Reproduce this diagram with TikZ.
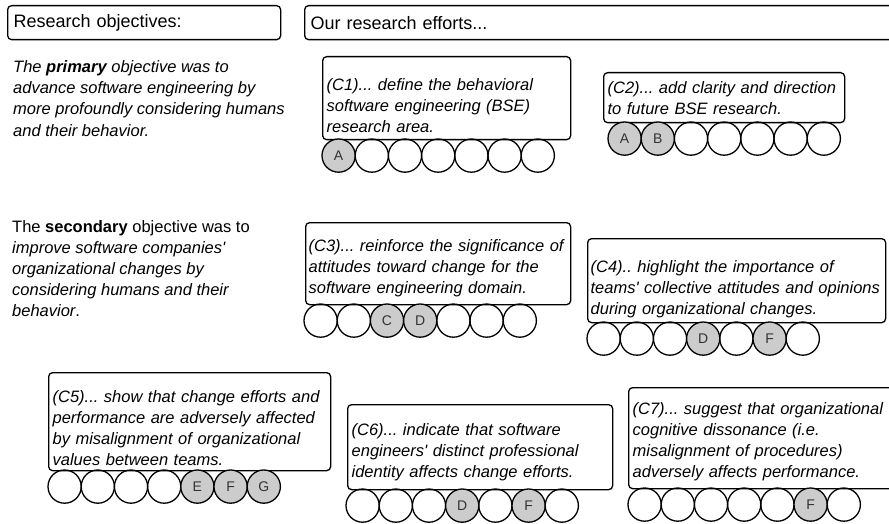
\documentclass[tikz,border=0pt]{standalone}
\usepackage{fontspec}
\setmainfont{Liberation Sans}
\frenchspacing
\usetikzlibrary{positioning}
\definecolor{litegray}{HTML}{cccccc}
\definecolor{inkgray}{HTML}{333333}

\tikzset{
	framebox/.style={draw, rounded corners=4pt, line width=1.3pt, anchor=north west,
		inner xsep=4pt, inner ysep=0pt, align=left},
	headbox/.style={framebox, inner xsep=6pt, font=\fontsize{18}{21}\selectfont},
	effort/.style={framebox, font=\fontsize{16.5}{21}\selectfont\itshape},
	sink/.style={execute at begin node={\rule{0pt}{#1pt}}},
	note/.style={anchor=north west, inner sep=0pt, align=left, font=\fontsize{16.5}{21}\selectfont},
	ball/.style={circle, draw, line width=1.3pt, minimum size=33.2pt, inner sep=0pt,
		text=inkgray, font=\fontsize{14}{14}\selectfont},
	hit/.style={ball, fill=litegray}
}

\begin{document}
\begin{tikzpicture}[x=1pt, y=-1pt]
	\clip (0,0) rectangle (889,524);

	% headings
	\node[headbox, text width=261, minimum height=34] (objhead) at (7,5) {Research objectives:};
	\node[headbox, text width=579, minimum height=34] (efforthead) at (304,5) {Our research efforts...};

	% objectives
	\node[note, font=\fontsize{16.5}{21.3}\selectfont\itshape] (primary) at (13,60) {The \textbf{primary} objective was to\\
		advance software engineering by\\
		more profoundly considering humans\\
		and their behavior.};
	\node[note] (secondary) at (12,220) {The \textbf{secondary} objective was to\\
		\textit{improve software companies\textquotesingle}\\
		\textit{organizational changes by}\\
		\textit{considering humans and their}\\
		\textit{behavior}.};

	% contributions
	\node[effort, sink=26, text width=240, minimum height=83] (c1) at (322,56) {(C1)... define the behavioral\\
		software engineering (BSE)\\
		research area.};
	\node[effort, text width=233, minimum height=50] (c2) at (603,72) {(C2)... add clarity and direction\\
		to future BSE research.};
	\node[effort, sink=21, inner xsep=3pt, text width=259, minimum height=82] (c3) at (305,222) {(C3)... reinforce the significance of\\
		attitudes toward change for the\\
		software engineering domain.};
	\node[effort, sink=29, inner xsep=3pt, text width=292, minimum height=84] (c4) at (587,238) {(C4).. highlight the importance of\\
		teams\textquotesingle{} collective attitudes and opinions\\
		during organizational changes.};
	\node[effort, sink=24, text width=274, minimum height=98] (c5) at (48,372) {(C5)... show that change efforts and\\
		performance are adversely affected\\
		by misalignment of organizational\\
		values between teams.};
	\node[effort, sink=23, text width=257, minimum height=85] (c6) at (347,404) {(C6)... indicate that software\\
		engineers\textquotesingle{} distinct professional\\
		identity affects change efforts.};
	\node[effort, sink=20, text width=290, minimum height=101] (c7) at (628,387) {(C7)... suggest that organizational\\
		cognitive dissonance (i.e.\\
		misalignment of procedures)\\
		adversely affects performance.};

	% rows of balls
	\foreach \st/\lab [count=\i] in {hit/A,ball/,ball/,ball/,ball/,ball/,ball/}
		\node[\st] (c1-\i) at ({322+16.6+(\i-1)*33.2},155.6) {\lab};
	\foreach \st/\lab [count=\i] in {hit/A,hit/B,ball/,ball/,ball/,ball/,ball/}
		\node[\st] (c2-\i) at ({608+16.6+(\i-1)*33.2},138.6) {\lab};
	\foreach \st/\lab [count=\i] in {ball/,ball/,hit/C,hit/D,ball/,ball/,ball/}
		\node[\st] (c3-\i) at ({304+16.6+(\i-1)*33.2},320.6) {\lab};
	\foreach \st/\lab [count=\i] in {ball/,ball/,ball/,hit/D,ball/,hit/F,ball/}
		\node[\st] (c4-\i) at ({587+16.6+(\i-1)*33.2},338.6) {\lab};
	\foreach \st/\lab [count=\i] in {ball/,ball/,ball/,ball/,hit/E,hit/F,hit/G}
		\node[\st] (c5-\i) at ({48+16.6+(\i-1)*33.2},486.6) {\lab};
	\foreach \st/\lab [count=\i] in {ball/,ball/,ball/,hit/D,ball/,hit/F,ball/}
		\node[\st] (c6-\i) at ({346+16.6+(\i-1)*33.2},505.6) {\lab};
	\foreach \st/\lab [count=\i] in {ball/,ball/,ball/,ball/,ball/,hit/F,ball/}
		\node[\st] (c7-\i) at ({628+16.6+(\i-1)*33.2},504.6) {\lab};
\end{tikzpicture}
\end{document}
